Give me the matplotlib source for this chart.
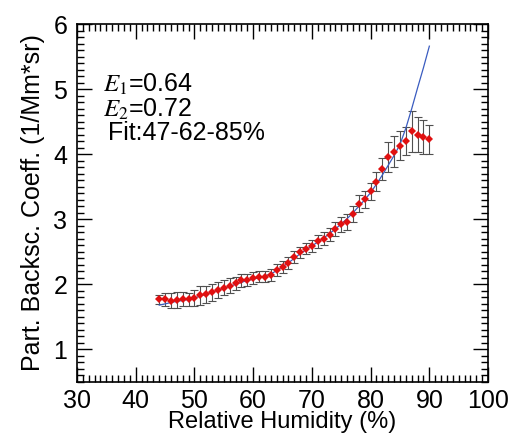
import numpy as np
import matplotlib
matplotlib.use('Agg')
import matplotlib.pyplot as plt
from matplotlib.ticker import MultipleLocator

# 数据: 相对湿度与后向散射系数
rh = list(range(44, 91))
beta = [1.77, 1.77, 1.75, 1.76, 1.77, 1.77, 1.79, 1.83, 1.85, 1.88,
        1.91, 1.95, 1.98, 2.02, 2.06, 2.07, 2.10, 2.12, 2.12, 2.14,
        2.22, 2.27, 2.33, 2.42, 2.49, 2.55, 2.59, 2.66, 2.70, 2.76,
        2.85, 2.92, 2.96, 3.08, 3.24, 3.31, 3.43, 3.58, 3.77, 3.95,
        4.04, 4.13, 4.20, 4.35, 4.30, 4.26, 4.23]
err = [0.07, 0.10, 0.12, 0.12, 0.11, 0.10, 0.12, 0.14, 0.13, 0.13,
       0.12, 0.12, 0.11, 0.10, 0.10, 0.09, 0.09, 0.09, 0.08, 0.09,
       0.09, 0.09, 0.09, 0.09, 0.09, 0.09, 0.09, 0.10, 0.10, 0.10,
       0.11, 0.12, 0.12, 0.12, 0.13, 0.13, 0.13, 0.14, 0.17, 0.23,
       0.24, 0.22, 0.22, 0.32, 0.27, 0.26, 0.22]
# 拟合曲线
fit_rh = list(range(44, 91))
fit_beta = [1.68, 1.70, 1.72, 1.74, 1.75, 1.77, 1.79, 1.82, 1.85, 1.88,
            1.91, 1.94, 1.97, 2.00, 2.03, 2.06, 2.08, 2.10, 2.13, 2.16,
            2.21, 2.27, 2.33, 2.40, 2.47, 2.53, 2.59, 2.65, 2.71, 2.78,
            2.85, 2.93, 3.01, 3.10, 3.20, 3.30, 3.41, 3.54, 3.68, 3.83,
            3.98, 4.15, 4.40, 4.70, 5.02, 5.33, 5.66]

plt.rcParams['font.family'] = ['Liberation Sans', 'DejaVu Sans']
plt.rcParams['mathtext.fontset'] = 'stix'

fig = plt.figure(figsize=(5.1, 4.37), dpi=100)
ax = fig.add_axes([0.151, 0.126, 0.806, 0.819])

ax.errorbar(rh, beta, yerr=err, fmt='none', ecolor='#505050', elinewidth=0.8,
            capsize=3, capthick=0.8, zorder=2)
ax.plot(fit_rh, fit_beta, color='#3a5cc0', linewidth=0.9, zorder=3)
ax.plot(rh, beta, 'D', color='#e01010', markersize=4.3, markeredgewidth=0, zorder=4)

ax.set_xlim(30, 100)
ax.set_ylim(0.5, 6)
ax.xaxis.set_major_locator(MultipleLocator(10))
ax.xaxis.set_minor_locator(MultipleLocator(1))
ax.yaxis.set_major_locator(MultipleLocator(1))
ax.yaxis.set_minor_locator(MultipleLocator(0.1))
ax.tick_params(which='both', direction='in', top=True, right=True, width=1.0)
ax.tick_params(which='major', length=10.5, labelsize=18)
ax.tick_params(axis='x', which='major', pad=5)
ax.tick_params(axis='y', which='major', pad=7)
ax.tick_params(which='minor', length=5)
ax.set_yticks([1, 2, 3, 4, 5, 6])
for s in ax.spines.values():
    s.set_linewidth(1.2)

ax.set_xlabel('Relative Humidity (%)', fontsize=17, labelpad=-1)
ax.set_ylabel('Part. Backsc. Coeff. (1/Mm*sr)', fontsize=18, labelpad=6)

ax.text(0.063, 0.81, r'$E_1$=0.64', transform=ax.transAxes, fontsize=18)
ax.text(0.063, 0.74, r'$E_2$=0.72', transform=ax.transAxes, fontsize=18)
ax.text(0.075, 0.675, 'Fit:47-62-85%', transform=ax.transAxes, fontsize=18)

fig.savefig('out.png', dpi=100)
